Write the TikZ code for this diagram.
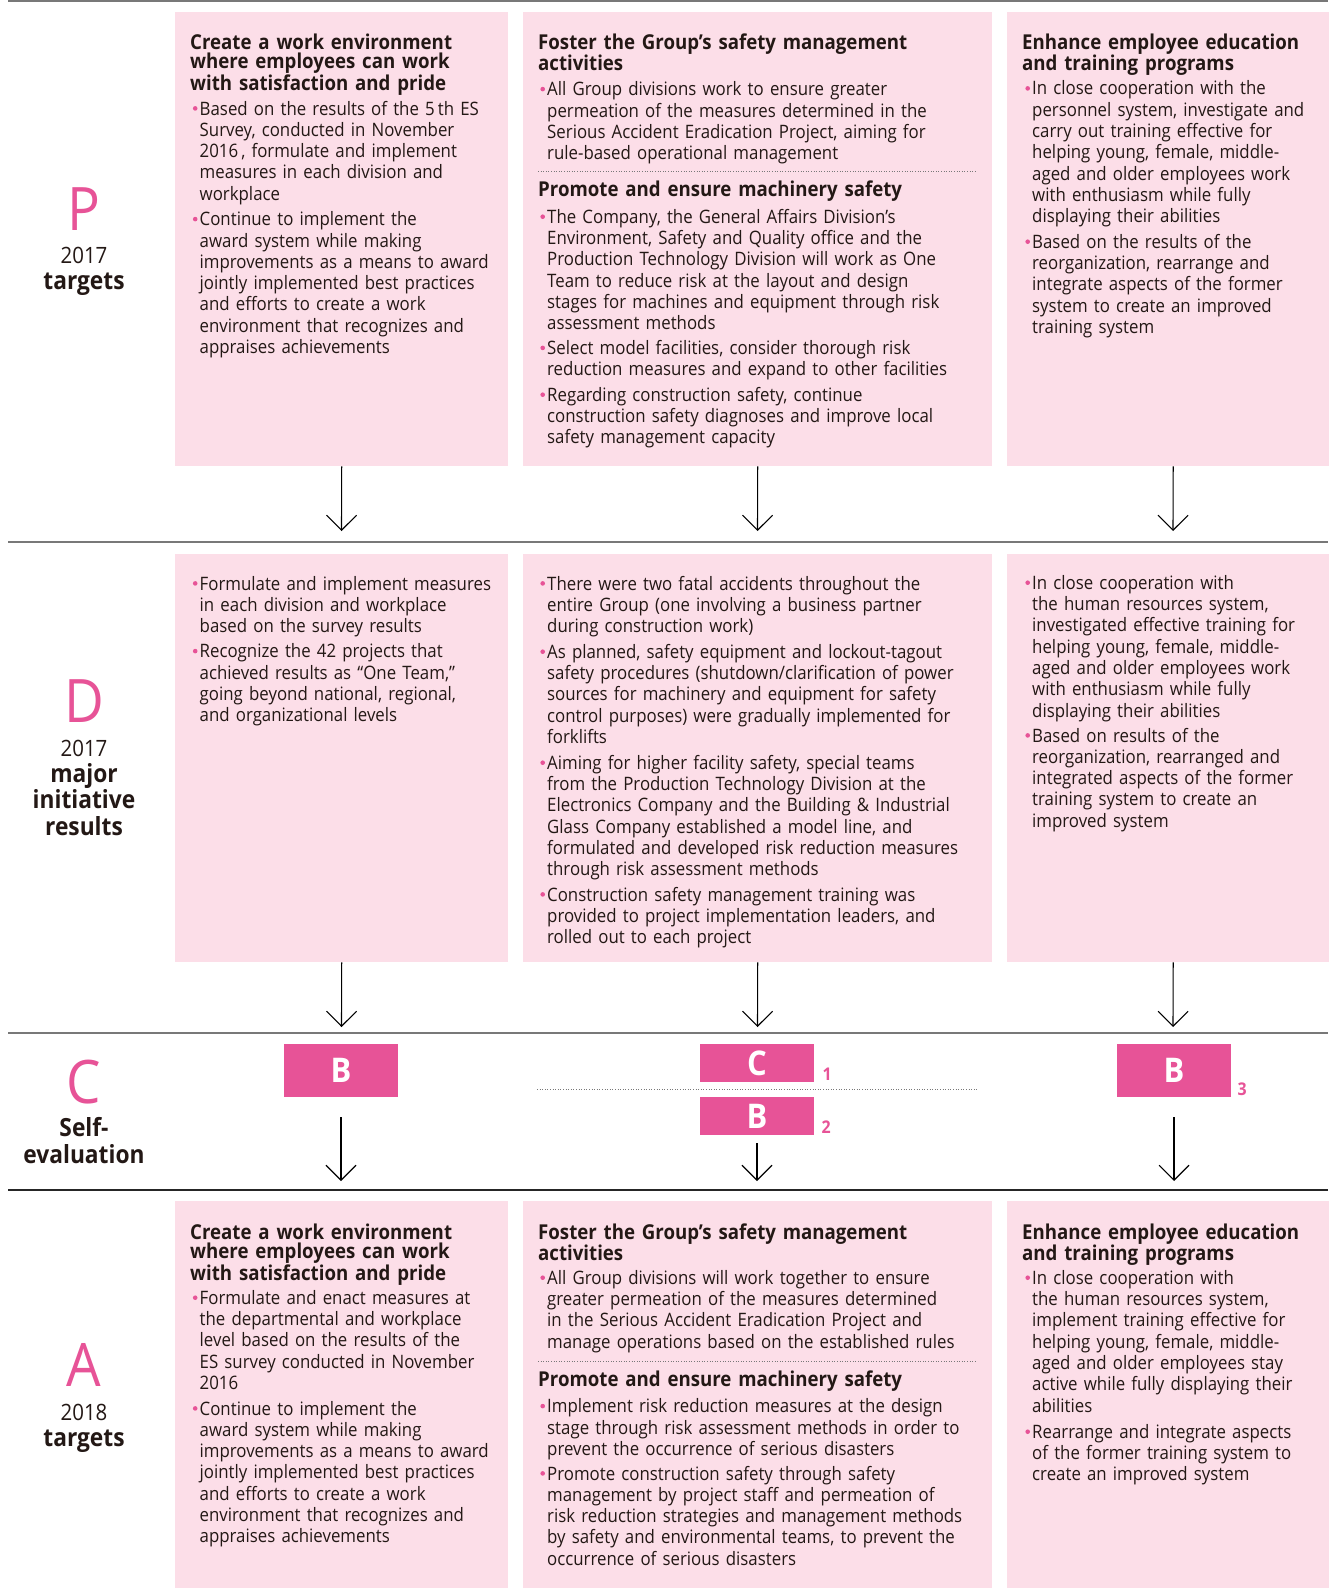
\documentclass[tikz,border=0pt]{standalone}
\usepackage{fontspec}
\setmainfont{Open Sans}[FakeStretch=0.91]
\usetikzlibrary{arrows.meta}
\definecolor{boxpink}{RGB}{252,222,232}
\definecolor{mag}{RGB}{231,83,151}
\definecolor{rulegray}{RGB}{120,120,120}
\definecolor{txt}{RGB}{35,24,21}
\newcommand\bodyf{\fontsize{18.5}{21.3}\selectfont}
\newcommand\headf{\fontsize{20.5}{19.5}\selectfont\bfseries}
\newcommand\bl{\leavevmode\llap{\tikz[baseline=0pt]\fill[mag] (0pt,6.6pt) circle[radius=2.3pt];\hspace{2.2pt}}}
\begin{document}
\begin{tikzpicture}[x=1pt,y=-1pt,
  pbox/.style={fill=boxpink,draw=none,inner sep=0pt,anchor=north west},
  body/.style={anchor=base west,inner sep=0pt,align=left,font=\bodyf,text=txt,text width=480pt},
  head/.style={anchor=base west,inner sep=0pt,align=left,font=\headf,text=txt,text width=480pt},
  bigl/.style={anchor=base,inner sep=0pt,font=\fontsize{60}{60}\selectfont,text=mag},
  labr/.style={anchor=base,inner sep=0pt,font=\fontsize{22.5}{22.5}\selectfont,text=txt},
  labb/.style={anchor=base,inner sep=0pt,font=\fontsize{25}{26}\selectfont\bfseries,text=txt,align=center},
  badge/.style={fill=mag,text=white,inner sep=0pt,minimum width=114pt,font=\fontsize{34}{34}\selectfont\bfseries},
  num/.style={anchor=base west,inner sep=0pt,text=mag,font=\fontsize{17.5}{17.5}\selectfont\bfseries},
  arr/.style={line width=1.1pt,-{Straight Barb[length=15pt,width=30pt,line width=1.1pt]}},
  dline/.style={draw=rulegray,line width=1pt,dash pattern=on 1pt off 1.6pt},
  hrule/.style={draw=rulegray,line width=2pt}
]
\fill[white] (0,0) rectangle (1328,1595);
\useasboundingbox (0,0) rectangle (1328,1595);

% horizontal rules
\draw[hrule] (8,1) -- (1328,1);
\draw[hrule] (8,542) -- (1328,542);
\draw[hrule] (8,1033) -- (1328,1033);
\draw[draw=black!85,line width=1.4pt] (8,1190) -- (1328,1190);

% boxes
\node[pbox,minimum width=333pt,minimum height=454pt] (p1) at (175,12) {};
\node[pbox,minimum width=469pt,minimum height=454pt] (p2) at (523,12) {};
\node[pbox,minimum width=332pt,minimum height=454pt] (p3) at (1007,12) {};
\node[pbox,minimum width=333pt,minimum height=408pt] (d1) at (175,554) {};
\node[pbox,minimum width=469pt,minimum height=408pt] (d2) at (523,554) {};
\node[pbox,minimum width=332pt,minimum height=408pt] (d3) at (1007,554) {};
\node[pbox,minimum width=333pt,minimum height=387pt] (a1) at (175,1201) {};
\node[pbox,minimum width=469pt,minimum height=387pt] (a2) at (523,1201) {};
\node[pbox,minimum width=332pt,minimum height=387pt] (a3) at (1007,1201) {};

% left labels
\node[bigl] (lP) at (84,230) {P};
\node[labr] (lP1) at (84,263.3) {2017};
\node[labb] (lP2) at (84,289.3) {targets};
\node[bigl] (lD) at (84,722.7) {D};
\node[labr] (lD1) at (84,756) {2017};
\node[labb] (lD2) at (84,782) {major};
\node[labb] (lD3) at (84,808.5) {initiative};
\node[labb] (lD4) at (84,835) {results};
\node[bigl] (lC) at (84,1103) {C};
\node[labb] (lC1) at (84,1136.7) {Self-};
\node[labb] (lC2) at (84,1163.3) {evaluation};
\node[bigl] (lA) at (84,1386.7) {A};
\node[labr] (lA1) at (84,1420) {2018};
\node[labb] (lA2) at (84,1446) {targets};

% ---------- P row ----------
\node[head] (p1h) at (190,49) {Create a work environment\\where employees can work\\with satisfaction and pride};
\node[body] (p1b1) at (199.5,115) {\bl Based on the results of the 5\,th ES\\Survey, conducted in November\\2016\,, formulate and implement\\measures in each division and\\workplace};
\node[body] (p1b2) at (199.5,225.7) {\bl Continue to implement the\\award system while making\\improvements as a means to award\\jointly implemented best practices\\and efforts to create a work\\environment that recognizes and\\appraises achievements};

\node[head] (p2h) at (538,49) {Foster the Group’s safety management\\activities};
\node[body] (p2b1) at (547,95.7) {\bl All Group divisions work to ensure greater\\permeation of the measures determined in the\\Serious Accident Eradication Project, aiming for\\rule-based operational management};
\draw[dline] (538,171) -- (976,171);
\node[head] (p2h2) at (538,196.7) {Promote and ensure machinery safety};
\node[body] (p2b2) at (547,223.3) {\bl The Company, the General Affairs Division’s\\Environment, Safety and Quality office and the\\Production Technology Division will work as One\\Team to reduce risk at the layout and design\\stages for machines and equipment through risk\\assessment methods};
\node[body] (p2b3) at (547,354.5) {\bl Select model facilities, consider thorough risk\\reduction measures and expand to other facilities};
\node[body] (p2b4) at (547,401.3) {\bl Regarding construction safety, continue\\construction safety diagnoses and improve local\\safety management capacity};

\node[head] (p3h) at (1022,49) {Enhance employee education\\and training programs};
\node[body] (p3b1) at (1032,95) {\bl In close cooperation with the\\personnel system, investigate and\\carry out training effective for\\helping young, female, middle-\\aged and older employees work\\with enthusiasm while fully\\displaying their abilities};
\node[body] (p3b2) at (1032,248.3) {\bl Based on the results of the\\reorganization, rearrange and\\integrate aspects of the former\\system to create an improved\\training system};

% ---------- D row ----------
\node[body] (d1b1) at (199.5,590) {\bl Formulate and implement measures\\in each division and workplace\\based on the survey results};
\node[body] (d1b2) at (199.5,657.7) {\bl Recognize the 42 projects that\\achieved results as “One Team,”\\going beyond national, regional,\\and organizational levels};

\node[body] (d2b1) at (547,590) {\bl There were two fatal accidents throughout the\\entire Group (one involving a business partner\\during construction work)};
\node[body] (d2b2) at (547,658.3) {\bl As planned, safety equipment and lockout-tagout\\safety procedures (shutdown/clarification of power\\sources for machinery and equipment for safety\\control purposes) were gradually implemented for\\forklifts};
\node[body] (d2b3) at (547,769.3) {\bl Aiming for higher facility safety, special teams\\from the Production Technology Division at the\\Electronics Company and the Building \& Industrial\\Glass Company established a model line, and\\formulated and developed risk reduction measures\\through risk assessment methods};
\node[body] (d2b4) at (547,901) {\bl Construction safety management training was\\provided to project implementation leaders, and\\rolled out to each project};

\node[body] (d3b1) at (1032,589.3) {\bl In close cooperation with\\the human resources system,\\investigated effective training for\\helping young, female, middle-\\aged and older employees work\\with enthusiasm while fully\\displaying their abilities};
\node[body] (d3b2) at (1032,742) {\bl Based on results of the\\reorganization, rearranged and\\integrated aspects of the former\\training system to create an\\improved system};

% ---------- C row ----------
\node[badge,minimum height=53pt] (c1) at (341,1070.5) {B};
\node[badge,minimum height=38pt] (c2a) at (757,1063) {C};
\node[badge,minimum height=38pt] (c2b) at (757,1116) {B};
\node[badge,minimum height=53pt] (c3) at (1174,1070.5) {B};
\draw[dline] (537,1089) -- (977,1089);
\node[num] (n1) at (822.5,1080) {1};
\node[num] (n2) at (821.5,1133.3) {2};
\node[num] (n3) at (1237.5,1095) {3};

% ---------- A row ----------
\node[head] (a1h) at (190,1239) {Create a work environment\\where employees can work\\with satisfaction and pride};
\node[body] (a1b1) at (199.5,1304.3) {\bl Formulate and enact measures at\\the departmental and workplace\\level based on the results of the\\ES survey conducted in November\\2016};
\node[body] (a1b2) at (199.5,1415) {\bl Continue to implement the\\award system while making\\improvements as a means to award\\jointly implemented best practices\\and efforts to create a work\\environment that recognizes and\\appraises achievements};

\node[head] (a2h) at (538,1239) {Foster the Group’s safety management\\activities};
\node[body] (a2b1) at (547,1284.3) {\bl All Group divisions will work together to ensure\\greater permeation of the measures determined\\in the Serious Accident Eradication Project and\\manage operations based on the established rules};
\draw[dline] (538,1361) -- (976,1361);
\node[head] (a2h2) at (538,1386) {Promote and ensure machinery safety};
\node[body] (a2b2) at (547,1412.7) {\bl Implement risk reduction measures at the design\\stage through risk assessment methods in order to\\prevent the occurrence of serious disasters};
\node[body] (a2b3) at (547,1480) {\bl Promote construction safety through safety\\management by project staff and permeation of\\risk reduction strategies and management methods\\by safety and environmental teams, to prevent the\\occurrence of serious disasters};

\node[head] (a3h) at (1022,1239) {Enhance employee education\\and training programs};
\node[body] (a3b1) at (1032,1284.3) {\bl In close cooperation with\\the human resources system,\\implement training effective for\\helping young, female, middle-\\aged and older employees stay\\active while fully displaying their\\abilities};
\node[body] (a3b2) at (1032,1438.3) {\bl Rearrange and integrate aspects\\of the former training system to\\create an improved system};

% ---------- arrows ----------
\coordinate (pe1) at (341.5,531);
\coordinate (pe2) at (757.5,531);
\coordinate (pe3) at (1173,531);
\draw[arr] (p1.south) -- (pe1);
\draw[arr] (p2.south) -- (pe2);
\draw[arr] (p3.south) -- (pe3);
\coordinate (de1) at (341.5,1027);
\coordinate (de2) at (757.5,1027);
\coordinate (de3) at (1173,1027);
\draw[arr] (d1.south) -- (de1);
\draw[arr] (d2.south) -- (de2);
\draw[arr] (d3.south) -- (de3);
\coordinate (ae1) at (341,1181);
\coordinate (ae2) at (757,1181);
\coordinate (ae3) at (1174,1181);
\draw[arr,shorten <=20pt] (c1.south) -- (ae1);
\draw[arr,shorten <=8pt] (c2b.south) -- (ae2);
\draw[arr,shorten <=20pt] (c3.south) -- (ae3);
\end{tikzpicture}
\end{document}
